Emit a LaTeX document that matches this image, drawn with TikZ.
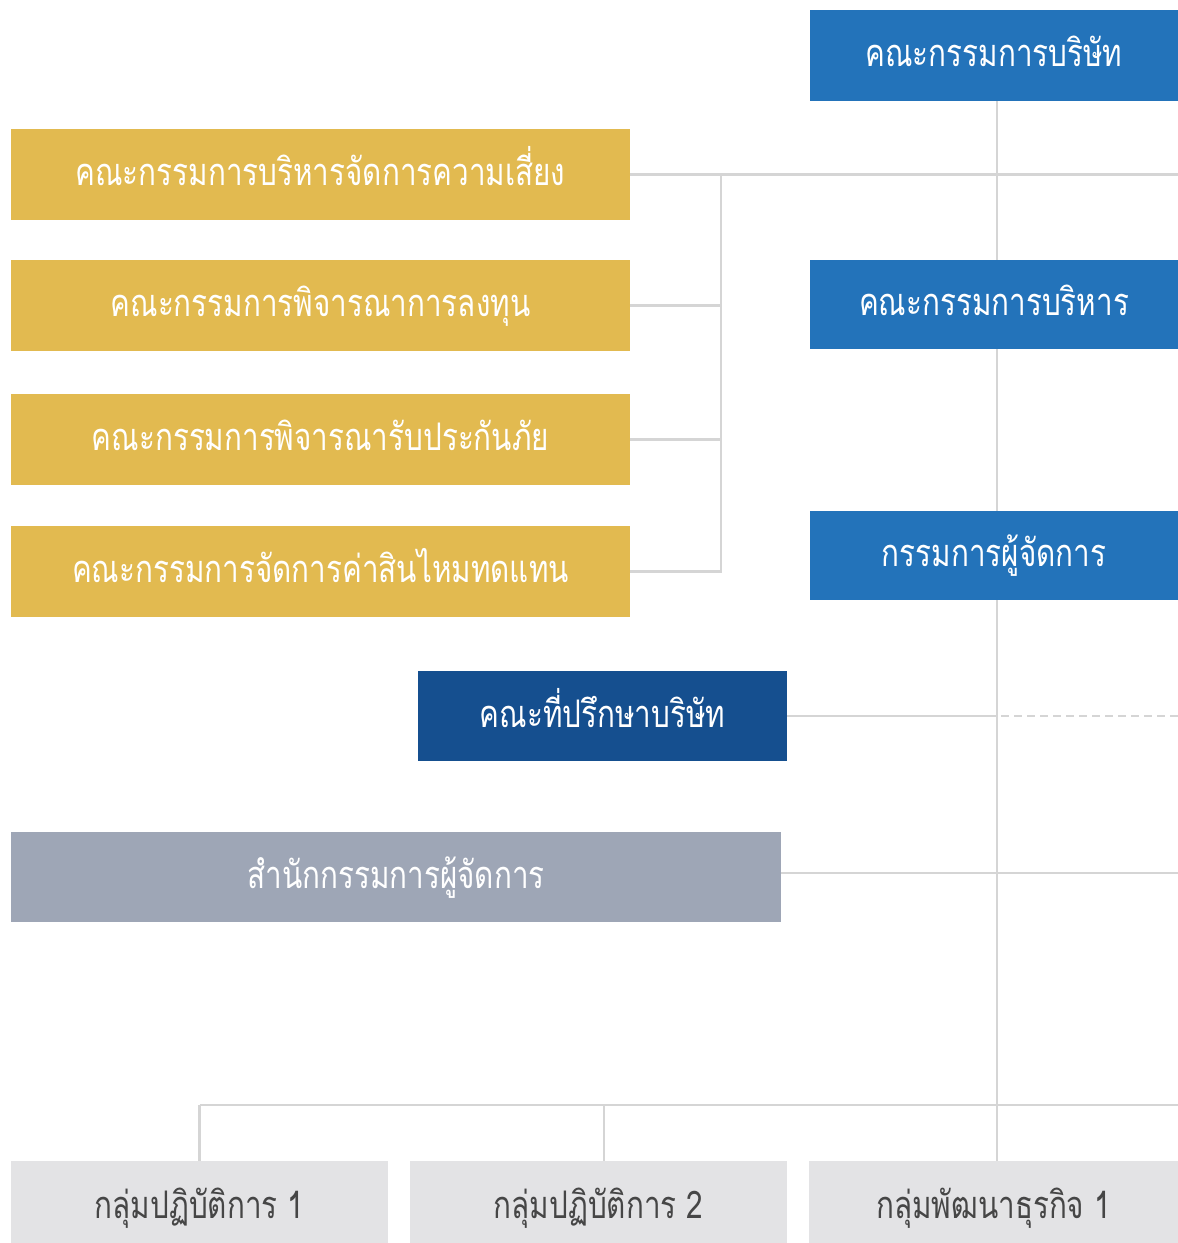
\documentclass[tikz,border=0pt]{standalone}
\usepackage{fontspec}
\newfontfamily\thai[Script=Thai,FakeStretch=0.78]{Loma}
\definecolor{cblue}{RGB}{35,115,186}
\definecolor{cdark}{RGB}{21,79,143}
\definecolor{cgray}{RGB}{158,166,182}
\definecolor{cyellow}{RGB}{226,186,80}
\definecolor{clight}{RGB}{227,227,229}
\definecolor{cline}{RGB}{213,213,213}
\definecolor{ctext}{RGB}{70,70,70}
\begin{document}
\begin{tikzpicture}[x=1pt,y=-1pt,
  box/.style={anchor=north west,inner sep=0pt,outer sep=0pt,text=white,
    text height=26pt,text depth=4pt,
    font=\thai\fontsize{38}{40}\selectfont},
  bluebox/.style={box,fill=cblue,minimum width=368pt,minimum height=91pt},
  yelbox/.style={box,fill=cyellow,minimum width=619pt,minimum height=91pt},
  grpbox/.style={box,fill=clight,text=ctext,minimum width=378pt,minimum height=82pt,
    text height=32pt,text depth=0pt},
  conn/.style={draw=cline,line width=2.6pt},
  dashconn/.style={conn,dash pattern=on 8pt off 5pt}]
\useasboundingbox (0,0) rectangle (1178,1243);
% nodes
\node[bluebox] (board) at (810,10) {คณะกรรมการบริษัท};
\node[bluebox,minimum height=89pt] (exec) at (810,260) {คณะกรรมการบริหาร};
\node[bluebox,minimum height=89pt] (md) at (810,511) {กรรมการผู้จัดการ};
\node[box,fill=cdark,minimum width=369pt,minimum height=90pt] (adv) at (418,671) {คณะที่ปรึกษาบริษัท};
\node[box,fill=cgray,minimum width=770pt,minimum height=90pt] (office) at (11,832) {สำนักกรรมการผู้จัดการ};
\node[yelbox] (y1) at (11,129) {คณะกรรมการบริหารจัดการความเสี่ยง};
\node[yelbox] (y2) at (11,260) {คณะกรรมการพิจารณาการลงทุน};
\node[yelbox] (y3) at (11,394) {คณะกรรมการพิจารณารับประกันภัย};
\node[yelbox] (y4) at (11,526) {คณะกรรมการจัดการค่าสินไหมทดแทน};
\node[grpbox,minimum width=377pt] (g1) at (11,1161) {กลุ่มปฏิบัติการ 1};
\node[grpbox,minimum width=377pt] (g2) at (410,1161) {กลุ่มปฏิบัติการ 2};
\node[grpbox,minimum width=369pt] (g3) at (809,1161) {กลุ่มพัฒนาธุรกิจ 1};
% coordinates
\coordinate (sp) at (997,0);
\coordinate (br) at (721,0);
\coordinate (re) at (1178,0);
\coordinate (bus) at (0,1105);
\coordinate (oy) at (0,873);
\coordinate (g2x) at (604,0);
% connectors: main spine
\draw[conn] (board.south -| sp) -- (exec.north -| sp);
\draw[conn] (exec.south -| sp) -- (md.north -| sp);
\draw[conn] (md.south -| sp) -- (g3.north -| sp);
% committees
\draw[conn] (y1.east) -- (y1.east -| re);
\draw[conn] (y1.east -| br) -- (y4.east -| br) -- (y4.east);
\draw[conn] (y2.east) -- (y2.east -| br);
\draw[conn] (y3.east) -- (y3.east -| br);
% advisory
\draw[conn] (adv.east) -- (adv.east -| sp);
\draw[dashconn] (adv.east -| sp) ++(4,0) -- (adv.east -| re);
% office
\draw[conn] (office.east |- oy) -- (re |- oy);
% groups
\draw[conn] (g1.north |- bus) -- (bus -| re);
\draw[conn] (g1.north |- bus) -- (g1.north);
\draw[conn] (g2x |- bus) -- (g2x |- g2.north);
\end{tikzpicture}
\end{document}
